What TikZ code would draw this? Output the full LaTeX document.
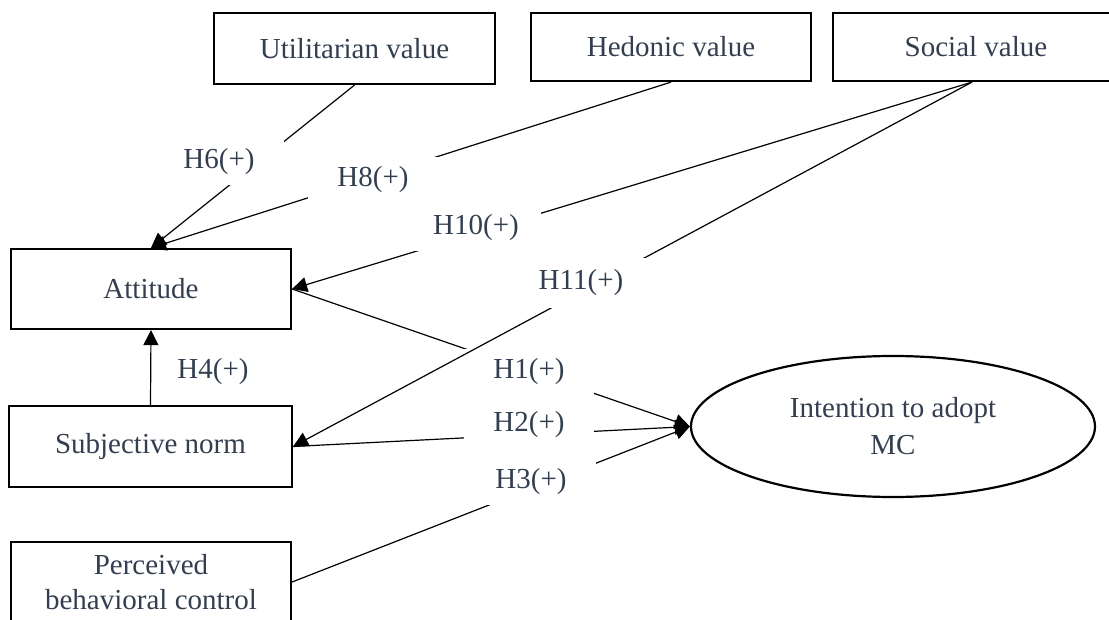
\documentclass[tikz,border=0pt]{standalone}
\usepackage{fontspec}
\setmainfont{Liberation Serif}
\usetikzlibrary{shapes.geometric,arrows.meta}
\definecolor{textslate}{RGB}{51,63,80}

\begin{document}
\begin{tikzpicture}[x=0.5pt, y=-0.5pt,
    every node/.style={font=\fontsize{14.5}{17.5}\selectfont, text=textslate},
    factor/.style={draw=black, line width=1.1pt, inner sep=0pt, align=center},
    hyp/.style={inner sep=0pt},
    gapbox/.style={hyp, fill=white, minimum width=65pt, minimum height=23pt},
    link/.style={line width=0.6pt},
    arrowlink/.style={link, -{Triangle[length=7.5pt,width=7.5pt]}}]
  \useasboundingbox (0,0) rectangle (1109,620);

  \node[factor, minimum width=140.5pt, minimum height=35.5pt] (util) at (354.5,48.5) {Utilitarian value};
  \node[factor, minimum width=140pt, minimum height=34pt] (hed) at (671,47) {Hedonic value};
  \node[factor, minimum width=143pt, minimum height=34pt] (soc) at (976,47) {Social value};
  \node[factor, minimum width=140pt, minimum height=40pt] (att) at (151,289) {Attitude};
  \node[factor, minimum width=141.5pt, minimum height=40.5pt] (sub) at (150.5,446.5) {Subjective norm};
  \node[factor, minimum width=140pt, minimum height=40pt] (pbc) at (151,582) {Perceived\\behavioral control};
  \node[factor, ellipse, minimum width=202pt, minimum height=70.5pt,
        font=\fontsize{14.5}{18.5}\selectfont] (intent) at (893,426.5) {Intention to adopt\\MC};

  \draw[arrowlink] (att.east) -- (intent.west);
  \draw[arrowlink] (sub.east) -- (intent.west);
  \draw[arrowlink] (pbc.east) -- (intent.west);
  \node[gapbox] (h1) at (529,372) {H1(+)};
  \node[gapbox] (h2) at (529,425) {H2(+)};
  \node[gapbox] (h3) at (531,482) {H3(+)};

  \draw[arrowlink] (sub.north) -- (att.south);
  \node[hyp] (h4) at (213,372) {H4(+)};

  \draw[arrowlink] (util.south) -- (att.north);
  \draw[arrowlink] (hed.south) -- (att.north);
  \draw[arrowlink] ([xshift=-2pt]soc.south) -- (att.east);
  \draw[arrowlink] ([xshift=-2pt]soc.south) -- (sub.east);
  \node[gapbox] (h6) at (219,162) {H6(+)};
  \node[gapbox] (h8) at (373,180) {H8(+)};
  \node[gapbox] (h10) at (476,228) {H10(+)};
  \node[gapbox, minimum height=25pt] (h11) at (581,283) {H11(+)};
\end{tikzpicture}
\end{document}
